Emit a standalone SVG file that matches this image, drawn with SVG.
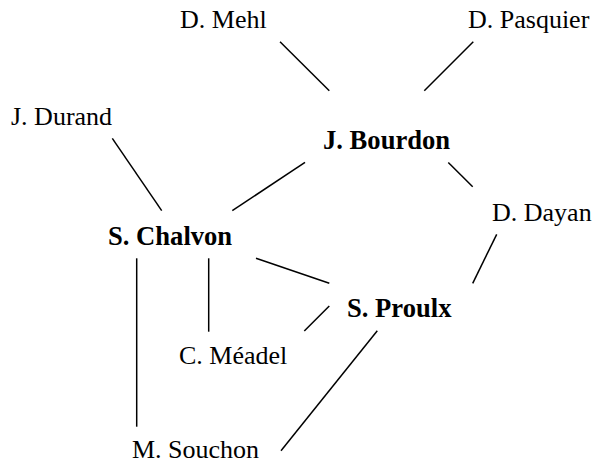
<svg xmlns="http://www.w3.org/2000/svg" width="595" height="463" viewBox="0 0 595 463">
<style>
text{font-family:"Liberation Serif","Times New Roman",serif;font-size:26px;fill:#000}
.b{font-weight:bold;font-size:26.6px}
line{stroke:#000;stroke-width:1.5}
</style>
<rect width="595" height="463" fill="#fff"/>
<g id="connectors">
<line x1="280" y1="41.7" x2="329.3" y2="90.7"/>
<line x1="473.3" y1="41.7" x2="424.3" y2="90.7"/>
<line x1="112.3" y1="138.3" x2="161.7" y2="210.7"/>
<line x1="305" y1="162.3" x2="232.3" y2="210.7"/>
<line x1="448.3" y1="162.5" x2="472.7" y2="186.7"/>
<line x1="496.7" y1="234.3" x2="472.7" y2="283.3"/>
<line x1="136.7" y1="258.3" x2="136.7" y2="426.7"/>
<line x1="208.7" y1="258.3" x2="208.7" y2="331.7"/>
<line x1="256" y1="258.3" x2="329.3" y2="283.3"/>
<line x1="304.3" y1="331" x2="329.3" y2="306"/>
<line x1="377.3" y1="330.7" x2="281" y2="450.7"/>
</g>
<g id="mehl"><text x="180" y="28">D. Mehl</text></g>
<g id="pasquier"><text x="468" y="28">D. Pasquier</text></g>
<g id="durand"><text x="11" y="125">J. Durand</text></g>
<g id="bourdon"><text class="b" x="323" y="149">J. Bourdon</text></g>
<g id="chalvon"><text class="b" x="108" y="245">S. Chalvon</text></g>
<g id="dayan"><text x="492" y="221">D. Dayan</text></g>
<g id="proulx"><text class="b" x="347" y="317">S. Proulx</text></g>
<g id="meadel"><text x="179" y="364">C. Méadel</text></g>
<g id="souchon"><text x="132" y="458">M. Souchon</text></g>
</svg>
